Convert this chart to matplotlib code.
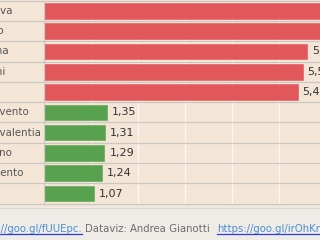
import matplotlib
matplotlib.use('Agg')
import matplotlib.pyplot as plt
from matplotlib.patches import Rectangle
from matplotlib.lines import Line2D
import matplotlib.transforms as mtransforms

provinces = ["Genova", "Torino", "Verona", "Rimini", "Lodi",
             "Benevento", "Vibo valentia", "Salerno", "Agrigento", "Bari"]
values = [6.35, 6.10, 5.60, 5.51, 5.40, 1.35, 1.31, 1.29, 1.24, 1.07]
groups = ["high"] * 5 + ["low"] * 5
group_colors = {"high": "#e2575a", "low": "#58a24f"}
footer_link1 = "https://goo.gl/fUUEpc."
footer_credit = "Dataviz: Andrea Gianotti"
footer_link2 = "https://goo.gl/irOhKm"

W, H = 320, 240
BG = "#f4e6d7"
FOOT = "#efebe7"
GRID = "#cbc8c4"

fig = plt.figure(figsize=(W / 100, H / 100), dpi=100)
fig.patch.set_facecolor(FOOT)


def fx(px):
    return px / W


def fy(py):
    return (H - py) / H


# beige table area
fig.patches.append(Rectangle((0, fy(207)), 1, 1, transform=fig.transFigure,
                             facecolor=BG, edgecolor='none', zorder=-10))
fig.lines.append(Line2D([0, 1], [fy(207.5), fy(207.5)], transform=fig.transFigure,
                        color="#dcd6d0", lw=0.8, zorder=-5))

x0, top, bottom = 43.7, 0.7, 203.7
ppu = 47.0
xmax = 6.5
ax = fig.add_axes([fx(x0), fy(bottom), xmax * ppu / W, (bottom - top) / H])
ax.set_zorder(1)
ax.set_facecolor(BG)
ax.set_xlim(0, xmax)
n = len(values)
ax.set_ylim(n - 0.5, -0.5)

ypos = list(range(n))
ax.barh(ypos, values, height=0.77,
        color=[group_colors[g] for g in groups],
        edgecolor=[group_colors[g] for g in groups], linewidth=0.4, zorder=3)

# vertical white-ish gridlines
for v in range(1, 7):
    ax.axvline(v, color="#fdf8f2", lw=0.9, zorder=1)

# row separators across the label column and plot
trans = mtransforms.blended_transform_factory(fig.transFigure, ax.transData)
for k in range(n + 1):
    ax.add_line(Line2D([0, 1], [k - 0.5, k - 0.5], transform=trans,
                       color=GRID, lw=0.9, clip_on=False, zorder=2))

for s in ax.spines.values():
    s.set_visible(False)
ax.axvline(0, color=GRID, lw=0.9, zorder=4)
ax.set_xticks([])
ax.set_yticks([])

# category labels (left aligned, partly outside the figure)
tlab = mtransforms.blended_transform_factory(fig.transFigure, ax.transData)
for y, name in zip(ypos, provinces):
    ax.text(fx(-26.5), y, name, transform=tlab, ha='left', va='center',
            fontsize=7.4, color="#555555", clip_on=False)

# value labels
for y, v in zip(ypos, values):
    ax.text(v + 5 / ppu, y, f"{v:.2f}".replace('.', ','), ha='left', va='center',
            fontsize=8, color="#333333", zorder=5, clip_on=False)

# footer
ty = fy(228.5)
t1 = fig.text(fx(82), ty, footer_link1, ha='right', va='center', fontsize=7.3,
              color="#4a8fd0")
t2 = fig.text(fx(85), ty, footer_credit, ha='left', va='center', fontsize=7.3,
              color="#6d6d6d")
t3 = fig.text(fx(217), ty, footer_link2, ha='left', va='center', fontsize=7.3,
              color="#4a8fd0")
fig.canvas.draw()
r = fig.canvas.get_renderer()
for t in (t1, t3):
    bb = t.get_window_extent(r)
    fig.lines.append(Line2D([bb.x0 / W, bb.x1 / W], [fy(234), fy(234)],
                            transform=fig.transFigure, color="#2a3fd8", lw=0.9))

fig.savefig("out.png", dpi=100, facecolor=fig.get_facecolor())
